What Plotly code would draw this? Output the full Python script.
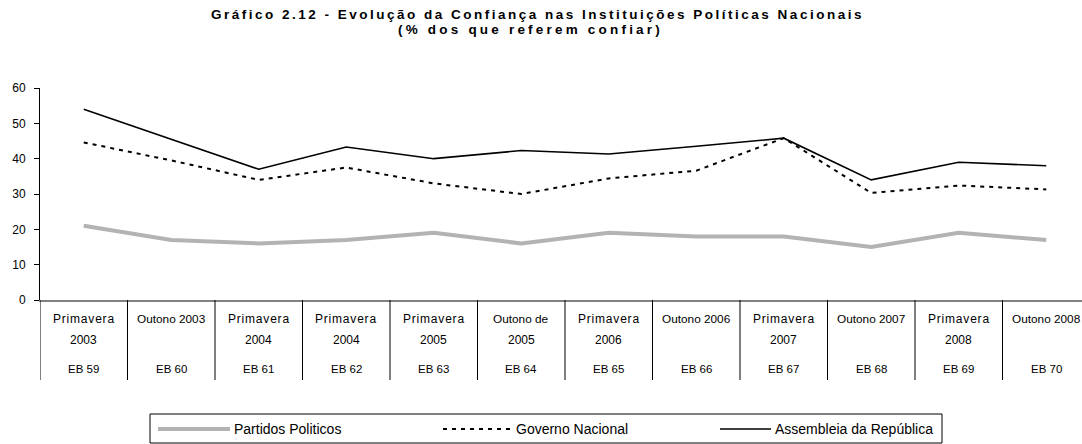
import plotly.graph_objects as go

# ---------------- data ----------------
eb_codes = ["EB 59", "EB 60", "EB 61", "EB 62", "EB 63", "EB 64",
            "EB 65", "EB 66", "EB 67", "EB 68", "EB 69", "EB 70"]
period_line1 = ["Primavera", "Outono 2003", "Primavera", "Primavera", "Primavera", "Outono de",
                "Primavera", "Outono 2006", "Primavera", "Outono 2007", "Primavera", "Outono 2008"]
period_line2 = ["2003", "", "2004", "2004", "2005", "2005",
                "2006", "", "2007", "", "2008", ""]

partidos = [21, 17, 16, 17, 19, 16, 19, 18, 18, 15, 19, 17]
governo = [44.6, 39.5, 34, 37.5, 33, 30, 34.4, 36.6, 45.8, 30.3, 32.4, 31.3]
assembleia = [54, 45.6, 37, 43.3, 40, 42.3, 41.3, 43.5, 45.8, 34, 39, 38]

series_names = ["Partidos Politicos", "Governo Nacional", "Assembleia da República"]
y_ticks = [0, 10, 20, 30, 40, 50, 60]

title_line1 = "Gráfico 2.12 - Evolução da Confiança nas Instituições Políticas Nacionais"
title_line2 = "(% dos que referem confiar)"

# ---------------- geometry helpers ----------------
W, H = 1082, 444
ML, MR, MT, MB = 40, 0, 88, 144
PW, PH = W - ML - MR, H - MT - MB


def px2paper_x(px):
    return (px - ML) / PW


def px2paper_y(py):
    return (H - MB - py) / PH


def spaced(text, ls):
    return '<span style="letter-spacing:%spx">%s</span>' % (ls, text)


x_idx = list(range(len(eb_codes)))
styles = [
    dict(color="#b3b3b3", width=4),
    dict(color="black", width=2, dash="4px,5px"),
    dict(color="black", width=1.6),
]
values = [partidos, governo, assembleia]

fig = go.Figure()
for name, vals, st in zip(series_names, values, styles):
    fig.add_trace(go.Scatter(x=x_idx, y=vals, mode="lines", name=name,
                             line=st, showlegend=False, hoverinfo="skip"))

shapes = []
annotations = []

# category separators below the axis
for i in range(len(eb_codes)):
    shapes.append(dict(type="line", xref="x", yref="paper",
                       x0=i - 0.5, x1=i - 0.5, y0=0, y1=px2paper_y(380),
                       line=dict(color="black", width=1)))

cat_font = dict(family="Liberation Sans, Arial, sans-serif", size=12, color="black")
for i in range(len(eb_codes)):
    lbl = period_line1[i]
    ls = 0.8 if " " not in lbl else 0
    annotations.append(dict(xref="x", yref="paper", x=i, y=px2paper_y(319),
                            text=spaced(lbl, ls), showarrow=False,
                            font=dict(cat_font, size=12 if ls else 11.8),
                            xanchor="center", yanchor="middle"))
    if period_line2[i]:
        annotations.append(dict(xref="x", yref="paper", x=i, y=px2paper_y(340),
                                text=period_line2[i], showarrow=False, font=cat_font,
                                xanchor="center", yanchor="middle"))
    annotations.append(dict(xref="x", yref="paper", x=i, y=px2paper_y(369),
                            text=eb_codes[i], showarrow=False,
                            font=dict(cat_font, size=11.5),
                            xanchor="center", yanchor="middle"))

# title
title_font = dict(family="Liberation Sans, Arial, sans-serif", size=13.5, color="black")
annotations.append(dict(xref="paper", yref="paper", x=px2paper_x(537), y=px2paper_y(14),
                        text="<b>" + spaced(title_line1, 2.5) + "</b>", showarrow=False,
                        font=title_font, xanchor="center", yanchor="middle"))
annotations.append(dict(xref="paper", yref="paper", x=px2paper_x(530), y=px2paper_y(30),
                        text="<b>" + spaced(title_line2, 3.2) + "</b>", showarrow=False,
                        font=title_font, xanchor="center", yanchor="middle"))

# manual legend
shapes.append(dict(type="rect", xref="paper", yref="paper",
                   x0=px2paper_x(150), x1=px2paper_x(942),
                   y0=px2paper_y(414), y1=px2paper_y(443),
                   line=dict(color="black", width=1), fillcolor="white"))
leg_font = dict(family="Liberation Sans Narrow, Arial Narrow, Liberation Sans, Arial",
                size=14, color="black")
leg_items = [(158, 230, 232), (443, 511, 514), (720, 771, 773)]
leg_y = px2paper_y(429)
for (x0, x1, xt), name, st in zip(leg_items, series_names, styles):
    shapes.append(dict(type="line", xref="paper", yref="paper",
                       x0=px2paper_x(x0), x1=px2paper_x(x1), y0=leg_y, y1=leg_y,
                       line=dict(st)))
    annotations.append(dict(xref="paper", yref="paper", x=px2paper_x(xt), y=leg_y,
                            text=name, showarrow=False, font=leg_font,
                            xanchor="left", yanchor="middle"))

fig.update_layout(
    width=W, height=H,
    margin=dict(l=ML, r=MR, t=MT, b=MB, pad=0),
    paper_bgcolor="white", plot_bgcolor="white",
    showlegend=False,
    font=dict(family="Liberation Sans, Arial, sans-serif", size=11, color="black"),
    xaxis=dict(range=[-0.5, -0.5 + PW / 87.5], showticklabels=False, ticks="",
               showgrid=False, zeroline=False, showline=True,
               linecolor="#808080", linewidth=1.5, fixedrange=True),
    yaxis=dict(range=[0, 60], tickvals=y_ticks, ticks="outside", ticklen=5,
               tickcolor="black", tickwidth=1, showgrid=False, zeroline=False,
               showline=True, linecolor="black", linewidth=1,
               ticklabelstandoff=6, fixedrange=True,
               tickfont=dict(family="Liberation Sans, Arial, sans-serif", size=12)),
    shapes=shapes,
    annotations=annotations,
)

fig.write_html(
    "out.html",
    config={"displayModeBar": False},
    post_script="document.body.style.margin='0';document.body.style.overflow='hidden';",
)
